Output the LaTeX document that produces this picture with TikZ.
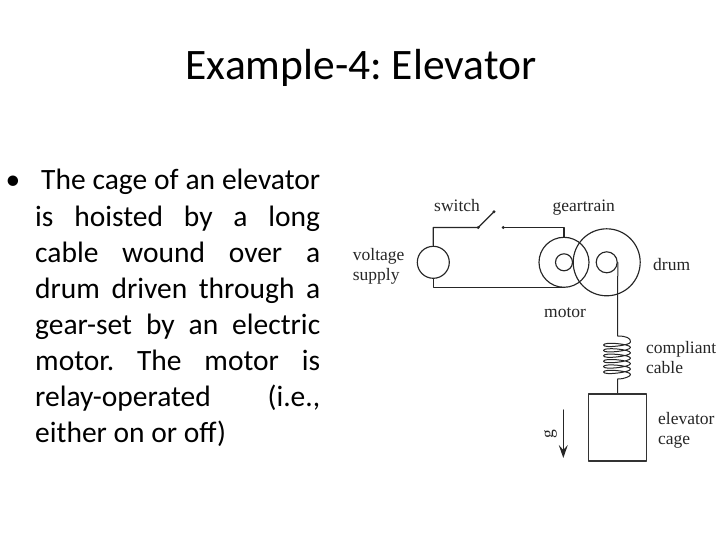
\documentclass[tikz,border=0pt]{standalone}
\usepackage{fontspec}
\setmainfont{Carlito}
\newfontfamily\figfont{Liberation Serif}
\usetikzlibrary{arrows.meta}
\frenchspacing
\tikzset{
  wire/.style={black!85, line width=1.15pt},
  figlabel/.style={font=\figfont\fontsize{17.5}{20}\selectfont, align=left, anchor=west, inner sep=0pt, text=black!85},
  bodyline/.style={font=\fontsize{29.5}{36}\selectfont, anchor=base west, inner sep=0pt}
}
\begin{document}
\begin{tikzpicture}[x=1pt, y=-1pt, line cap=round, line join=round]
  \useasboundingbox (0,0) rectangle (720,540);

  %% ---- title and bullet text ----
  \node[font=\fontsize{43.5}{48}\selectfont, inner sep=0pt, anchor=base] (title) at (361,80) {Example-4: Elevator};
  \node[font=\fontsize{29.5}{36}\selectfont, inner sep=0pt, anchor=base] (bullet) at (13,190) {•};
  \node[bodyline] (line1) at (41,190) {\makebox[279pt][s]{The cage of an elevator}};
  \node[bodyline] (line2) at (35,226) {\makebox[285pt][s]{is hoisted by a long}};
  \node[bodyline] (line3) at (35,262) {\makebox[285pt][s]{cable wound over a}};
  \node[bodyline] (line4) at (35,298) {\makebox[285pt][s]{drum driven through a}};
  \node[bodyline] (line5) at (35,334) {\makebox[285pt][s]{gear-set by an electric}};
  \node[bodyline] (line6) at (35,370) {\makebox[285pt][s]{motor. The motor is}};
  \node[bodyline] (line7) at (35,406) {\makebox[285pt][s]{relay-operated (i.e.,}};
  \node[bodyline] (line8) at (35,442) {either on or off)};

  %% ---- circuit ----
  \node[draw, wire, circle, minimum size=32pt, inner sep=0pt] (supply) at (433.3,262.3) {};
  \node[draw, wire, circle, minimum size=50pt, inner sep=0pt] (motor) at (564,262.3) {};
  \node[draw, wire, circle, minimum size=17pt, inner sep=0pt] (shaft) at (564,262.3) {};
  \node[draw, wire, circle, minimum size=67pt, inner sep=0pt] (drum) at (606.7,262.3) {};
  \node[draw, wire, circle, minimum size=21pt, inner sep=0pt] (hub) at (606.7,262.3) {};
  \fill[black!85] (478.3,227.5) circle (1.6pt) coordinate (contactA);
  \fill[black!85] (503.3,227.5) circle (1.6pt) coordinate (contactB);
  \fill[black!85] (494,211.7) circle (1.6pt) coordinate (swtip);
  \draw[wire] (supply.north) |- (contactA) -- (swtip);
  \draw[wire] (contactB) -| (motor.north);
  \draw[wire] (supply.south) |- (motor.south);

  %% ---- cable and coil ----
  \draw[wire, line width=1pt] (hub.east) -- (617.6,336) .. controls (626,336) and (631,338) .. (630.5,342)
    \foreach \k in {0,1,2,3,4,5}{
      .. controls (630.5,345.5+\k*5.4) and (603.5,348.5+\k*5.4) .. (603.5,345+\k*5.4)
      .. controls (603.5,341.5+\k*5.4) and (630.5,343.9+\k*5.4) .. (630.5,347.4+\k*5.4)
    }
    .. controls (631,376) and (625,379) .. (617.6,379) -- (617.6,394);

  %% ---- cage ----
  \node[draw, black!80, line width=1.4pt, minimum width=58pt, minimum height=67pt, inner sep=0pt] (cage) at (617.7,427.5) {};
  \coordinate (gtop) at (563.3,410);
  \coordinate (gbot) at (563.3,458);
  \draw[wire, -{Stealth[length=13pt, width=9pt, inset=5pt]}] (gtop) -- (gbot);

  %% ---- labels ----
  \node[figlabel] (switchlab) at (434,206) {switch};
  \node[figlabel] (gearlab) at (552.5,208) {geartrain};
  \node[figlabel] (supplylab) at (352.7,266) {voltage\\supply};
  \node[figlabel] (drumlab) at (653,265) {drum};
  \node[figlabel] (motorlab) at (544,313) {motor};
  \node[figlabel] (cablelab) at (646,358) {compliant\\cable};
  \node[figlabel] (cagelab) at (658,430) {elevator\\cage};
  \node[figlabel, rotate=90, anchor=center] (glab) at (550.5,434) {g};
\end{tikzpicture}
\end{document}
